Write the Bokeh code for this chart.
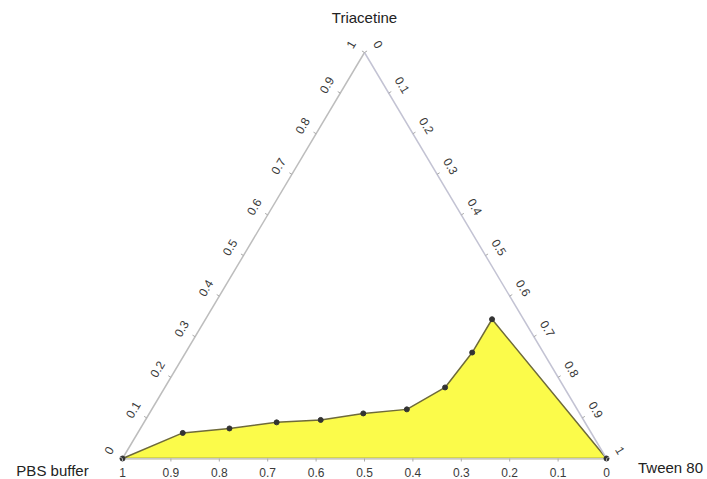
import math
from bokeh.plotting import figure
from bokeh.models import Range1d
from bokeh.embed import file_html
from bokeh.resources import INLINE

# ---- data (fractions) ----
tween = [0.0, 0.093, 0.184, 0.274, 0.362, 0.442, 0.527, 0.579, 0.592, 0.592, 1.0]
triacetine = [0.0, 0.063, 0.074, 0.089, 0.095, 0.111, 0.121, 0.175, 0.261, 0.343, 0.0]
pbs = [round(1 - a - b, 3) for a, b in zip(tween, triacetine)]
tick_values = [0, 0.1, 0.2, 0.3, 0.4, 0.5, 0.6, 0.7, 0.8, 0.9, 1]
tick_labels = ["0", "0.1", "0.2", "0.3", "0.4", "0.5", "0.6", "0.7", "0.8", "0.9", "1"]
vertex_names = ["PBS buffer", "Tween 80", "Triacetine"]

W, H = 707, 479
# pixel geometry of the triangle inside the frame
BX0, BX1, BY, TY = 122, 606, 458, 52   # left x, right x, base y, top y (frame pixels)
sx = BX1 - BX0
sy = BY - TY

x_range = Range1d(-BX0 / sx, (W - BX0) / sx)
y_range = Range1d(-(H - BY) / sy, BY / sy)

p = figure(width=W, height=H, x_range=x_range, y_range=y_range,
           output_backend="svg", toolbar_location=None, min_border=0)
p.axis.visible = False
p.grid.visible = False
p.outline_line_color = None
p.background_fill_color = "white"


def tern(w, t):
    return w + t / 2.0, t


# polygon region
xs, ys = zip(*[tern(w, t) for w, t in zip(tween, triacetine)])
p.patch(list(xs), list(ys), fill_color="#fbfb4a", line_color="#6e6a3a", line_width=1.5)

# triangle edges
p.line([0, 0.5], [0, 1], line_color="#bdbdbd", line_width=1.5)
p.line([0.5, 1], [1, 0], line_color="#c3c3d3", line_width=1.5)
p.line([0, 1], [0, 0], line_color="#c8c8c8", line_width=1.0)

p.scatter(list(xs), list(ys), size=5, color="#333333")

font = "Liberation Sans"
col = "#3a3a3a"


def off(dx_px, dy_px):
    return dx_px / sx, dy_px / sy


ang = math.atan2(sy, sx / 2.0)  # edge angle in pixels

tkx0, tky0, tkx1, tky1 = [], [], [], []

# left axis: triacetine 0 (bottom-left) -> 1 (top)
lx, ly, lt = [], [], []
nxl, nyl = -math.sin(ang), math.cos(ang)
for v, lab in zip(tick_values, tick_labels):
    X, Y = tern(0, v)
    dx, dy = off(16 * nxl, 16 * nyl)
    lx.append(X + dx); ly.append(Y + dy); lt.append(lab)
    ddx, ddy = off(3 * nxl, 3 * nyl)
    tkx0.append(X); tky0.append(Y); tkx1.append(X + ddx); tky1.append(Y + ddy)
p.text(lx, ly, text=lt, angle=ang, text_align="center", text_baseline="middle",
       text_font_size="12px", text_color=col, text_font={"value": font})

# right axis: tween 0 (top) -> 1 (bottom-right)
rx, ry, rt = [], [], []
nxr, nyr = math.sin(ang), math.cos(ang)
for v, lab in zip(tick_values, tick_labels):
    X, Y = tern(v, 1 - v)
    dx, dy = off(16 * nxr, 16 * nyr)
    rx.append(X + dx); ry.append(Y + dy); rt.append(lab)
    ddx, ddy = off(3 * nxr, 3 * nyr)
    tkx0.append(X); tky0.append(Y); tkx1.append(X + ddx); tky1.append(Y + ddy)
p.text(rx, ry, text=rt, angle=-ang, text_align="center", text_baseline="middle",
       text_font_size="12px", text_color=col, text_font={"value": font})

# bottom axis: PBS 1 (left) -> 0 (right)
bx, by, bt = [], [], []
for v, lab in zip(tick_values, tick_labels):
    X, Y = tern(1 - v, 0)
    dx, dy = off(0, -14)
    bx.append(X); by.append(Y + dy); bt.append(lab)
    ddx, ddy = off(0, -3)
    tkx0.append(X); tky0.append(Y); tkx1.append(X + ddx); tky1.append(Y + ddy)
p.text(bx, by, text=bt, text_align="center", text_baseline="middle",
       text_font_size="12px", text_color=col, text_font={"value": font})

p.segment(tkx0, tky0, tkx1, tky1, line_color="#aaaaaa", line_width=1)

# vertex labels
vx = [off(-70, 0)[0], 1 + off(64, 0)[0], 0.5]
vy = [off(0, -12)[1], off(0, -9)[1], 1 + off(0, 35)[1]]
p.text(vx, vy, text=vertex_names, text_align="center", text_baseline="middle",
       text_font_size="15px", text_color="#222222", text_font={"value": font})

open("out.html", "w").write(file_html(p, INLINE))
